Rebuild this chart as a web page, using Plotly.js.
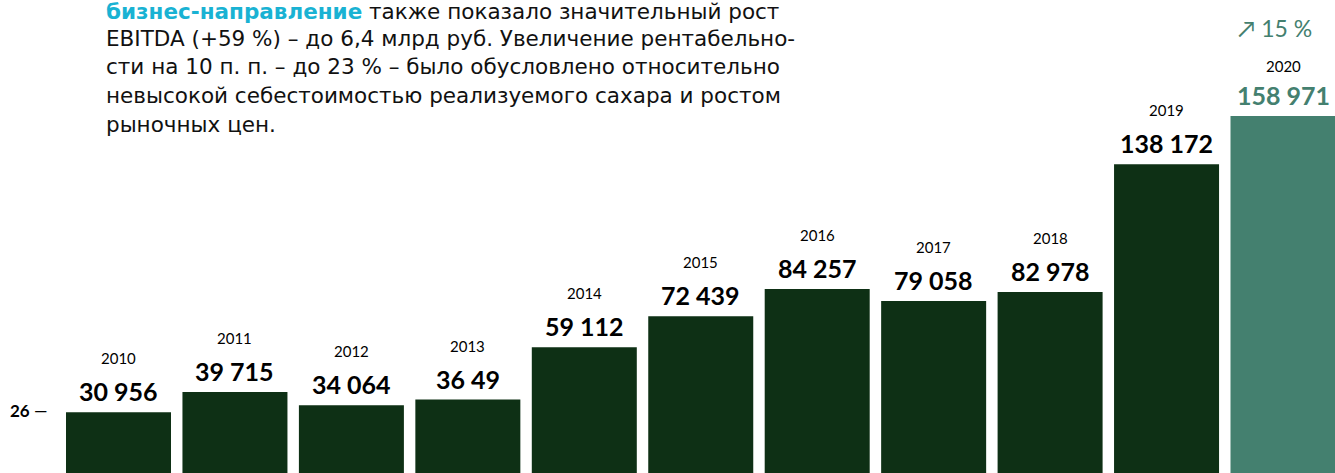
<!DOCTYPE html>
<html>
<head>
<meta charset="utf-8">
<script src="https://cdn.plot.ly/plotly-3.0.1.min.js"></script>
<style>html,body{margin:0;padding:0;background:#fff;}#chart{width:1335px;height:473px;}</style>
</head>
<body>
<div id="chart"></div>
<script>
const years = ['2010','2011','2012','2013','2014','2015','2016','2017','2018','2019','2020'];
const values = [30956, 39715, 34064, 36490, 59112, 72439, 84257, 79058, 82978, 138172, 158971];
const valueLabels = ['30 956','39 715','34 064','36 49','59 112','72 439','84 257','79 058','82 978','138 172','158 971'];
const growthLabel = '↗ 15 %';
const sideLabel = '26';
const paragraph = [
  '<span style="color:#19b2d3"><b>бизнес-направление</b></span> также показало значительный рост',
  'EBITDA (+59 %) – до 6,4 млрд руб. Увеличение рентабельно-',
  'сти на 10 п. п. – до 23 % – было обусловлено относительно',
  'невысокой себестоимостью реализуемого сахара и ростом',
  'рыночных цен.'
];

const DARK = '#0e3015';
const GREEN = '#44806f';
const FONT = 'Lato, "Open Sans", sans-serif';
const PFONT = '"DejaVu Sans", sans-serif';
const W = 1335, H = 473;

const colors = years.map((y, i) => i === years.length - 1 ? GREEN : DARK);

const pxPerUnit = (484 - 116) / 158971;
const yMin = (484 - H) / pxPerUnit;
const yMax = 484 / pxPerUnit;

const step = 116.45, c0 = 118.5;
const xMin = -c0 / step, xMax = (W - c0) / step;

const annotations = [];
years.forEach((y, i) => {
  const last = i === years.length - 1;
  annotations.push({
    x: i, y: values[i], xref: 'x', yref: 'y', text: '<b>' + valueLabels[i] + '</b>',
    showarrow: false, yanchor: 'middle', xanchor: 'center', yshift: 21,
    font: {family: FONT, size: 25, color: last ? GREEN : '#000'}
  });
  annotations.push({
    x: i, y: values[i], xref: 'x', yref: 'y', text: y,
    showarrow: false, yanchor: 'middle', xanchor: 'center', yshift: last ? 50 : 54,
    font: {family: FONT, size: 15, color: '#000'}
  });
});
annotations.push({
  x: 10, y: values[10], xref: 'x', yref: 'y', text: growthLabel,
  showarrow: false, yanchor: 'middle', xanchor: 'center', yshift: 88, xshift: -8,
  font: {family: FONT, size: 23, color: GREEN}
});
annotations.push({
  x: 8 / W, y: 1 - 410 / H, xref: 'paper', yref: 'paper', text: '<b>' + sideLabel + '</b> —',
  showarrow: false, xanchor: 'left', yanchor: 'middle',
  font: {family: FONT, size: 17, color: '#000'}
});
const lineY = [12, 38, 66, 95, 124];
paragraph.forEach((t, i) => {
  annotations.push({
    x: 104 / W, y: 1 - lineY[i] / H, xref: 'paper', yref: 'paper', text: t,
    showarrow: false, xanchor: 'left', yanchor: 'middle',
    font: {family: PFONT, size: 21.5, color: '#111'}
  });
});

Plotly.newPlot('chart', [{
  type: 'bar', x: years.map((y, i) => i), y: values,
  marker: {color: colors, line: {width: 0}},
  width: 105 / step, hoverinfo: 'none'
}], {
  width: W, height: H,
  margin: {l: 0, r: 0, t: 0, b: 0},
  paper_bgcolor: '#fff', plot_bgcolor: '#fff',
  showlegend: false,
  xaxis: {range: [xMin, xMax], visible: false, fixedrange: true},
  yaxis: {range: [yMin, yMax], visible: false, fixedrange: true},
  annotations: annotations
}, {staticPlot: true, displayModeBar: false});
</script>
</body>
</html>
